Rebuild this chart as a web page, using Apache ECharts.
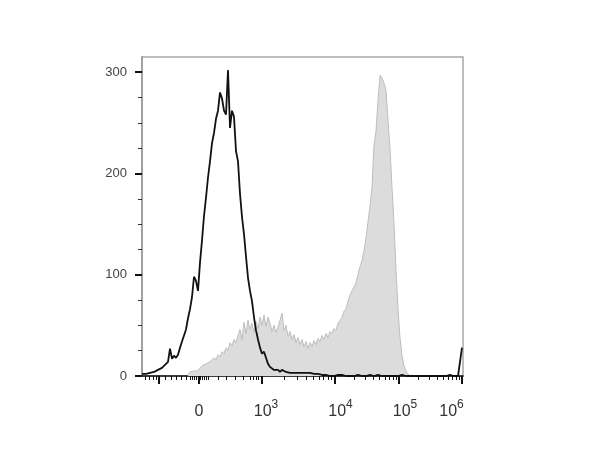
<!DOCTYPE html>
<html><head><meta charset="utf-8">
<script src="https://cdn.jsdelivr.net/npm/echarts@6/dist/echarts.min.js"></script>
<style>html,body{margin:0;padding:0;background:#fff}#c{width:600px;height:462px}</style>
</head><body><div id="c"></div>
<script>
// Histogram bins in display-channel units (biexponential display scale)
const binWidth = 2;
const blackStart = 0;
const blackCounts = [
  2,1,2,1,3,2,4,3,6,5,8,7,12,14,27,17,20,18,21,28,
  34,40,46,57,66,78,98,94,84,112,134,158,176,196,212,230,240,254,262,280,
  274,262,258,302,245,262,256,222,212,180,157,140,118,97,84,74,58,45,36,28,
  22,24,18,12,9,8,6,5,6,4,6,5,4,5,3,4,3,4,3,2,
  3,2,3,2,3,2,2,1,2,1,
  1,0,1,1,0,1,0,1,1,0,1,0,0,1,0,1,0,0,1,0,
  0,1,0,0,1,0,0,0,1,0,0,1,0,0,0,1,0,0,0,0,
  1,0,0,0,0,1,0,0,0,0,0,1,0,0,0,0,0,1,0,0,
  0,0,0,0,1,0,0,0,0,1,
  28
];
const grayStart = 46;
const grayCounts = [
  2,4,3,5,6,5,8,10,9,12,11,14,13,18,16,21,19,24,22,28,
  25,33,30,36,33,40,46,36,53,42,55,46,52,43,54,47,58,50,60,49,
  58,52,44,50,43,48,55,62,45,50,39,44,36,41,33,38,31,36,29,34,
  27,33,29,35,31,37,34,40,36,42,38,44,42,47,45,52,55,58,64,66,
  74,80,84,88,92,100,108,114,124,136,152,168,186,228,242,272,297,294,289,282,
  252,224,186,150,104,66,38,20,10,5,2,0
];

// Axis definitions
const yMajorTicks = [0, 100, 200, 300];
const yMinorTicks = [25, 50, 75, 125, 150, 175, 225, 250, 275];
const yMax = 315;
const xMax = 321;
const xTickLabels = ['0', '10^3', '10^4', '10^5', '10^6'];
const xLabelChannels = [57, 124, 198.5, 263, 309.5];
const xMajorChannels = [17, 57, 120, 193, 257, 320];
const xLinearMinor = [3, 7, 11, 14, 23, 29, 34, 39, 44, 48, 50, 52, 54, 56, 58, 60, 62, 64, 66, 76, 84, 93, 101, 108, 111, 114, 116];
const decadeSpans = [[120, 193], [193, 257], [257, 320]];

const xMinorChannels = xLinearMinor.slice();
decadeSpans.forEach(([a, b]) => {
  for (let k = 2; k <= 9; k++) xMinorChannels.push(+(a + Math.log10(k) * (b - a)).toFixed(2));
});

const blackData = blackCounts.map((v, i) => [blackStart + i * binWidth, v]);
const grayData = grayCounts.map((v, i) => [grayStart + i * binWidth, v]);

function fmtX(value) {
  let idx = -1;
  xLabelChannels.forEach((c, i) => { if (Math.abs(c - value) < 0.01) idx = i; });
  if (idx < 0) return '';
  const t = xTickLabels[idx];
  if (t.indexOf('^') >= 0) {
    const [b, e] = t.split('^');
    return '{b|' + b + '}{s|' + e + '}';
  }
  return '{b|' + t + '}';
}

const chart = echarts.init(document.getElementById('c'), null, {renderer: 'canvas'});
chart.setOption({
  animation: false,
  backgroundColor: '#fff',
  grid: {left: 142, top: 57, width: 321, height: 319, show: true, borderColor: '#a8a8a8', borderWidth: 1.5, backgroundColor: 'transparent'},
  xAxis: [{
    type: 'value', min: 0, max: xMax,
    axisLine: {show: true, lineStyle: {color: '#111', width: 1.5}},
    axisTick: {show: true, customValues: xMajorChannels, length: 8, lineStyle: {color: '#111', width: 2}},
    axisLabel: {show: true, customValues: xLabelChannels, margin: 23, formatter: fmtX,
      rich: {
        b: {fontSize: 16, fontFamily: 'Arial, Liberation Sans, sans-serif', color: '#333', lineHeight: 21, verticalAlign: 'bottom'},
        s: {fontSize: 12, fontFamily: 'Arial, Liberation Sans, sans-serif', color: '#333', lineHeight: 14, verticalAlign: 'top'}
      }},
    splitLine: {show: false}
  }, {
    type: 'value', min: 0, max: xMax, position: 'bottom',
    axisLine: {show: false},
    axisTick: {show: true, customValues: xMinorChannels, length: 4, lineStyle: {color: '#111', width: 1}},
    axisLabel: {show: false},
    splitLine: {show: false}
  }],
  yAxis: [{
    type: 'value', min: 0, max: yMax,
    axisLine: {show: true, lineStyle: {color: '#999', width: 1.5}},
    axisTick: {show: true, customValues: yMajorTicks, length: 7, lineStyle: {color: '#111', width: 2}},
    axisLabel: {show: true, customValues: yMajorTicks, margin: 15, fontSize: 13, color: '#444', fontFamily: 'Arial, Liberation Sans, sans-serif'},
    splitLine: {show: false}
  }, {
    type: 'value', min: 0, max: yMax, position: 'left',
    axisLine: {show: false},
    axisTick: {show: true, customValues: yMinorTicks, length: 4, lineStyle: {color: '#333', width: 1}},
    axisLabel: {show: false},
    splitLine: {show: false}
  }],
  series: [{
    name: 'stained', type: 'line', data: grayData, showSymbol: false, z: 2,
    lineStyle: {color: '#bdbdbd', width: 1},
    areaStyle: {color: '#dcdcdc', opacity: 1}
  }, {
    name: 'control', type: 'line', data: blackData, showSymbol: false, z: 3,
    lineStyle: {color: '#111', width: 1.8}
  }]
});
</script>
</body></html>
